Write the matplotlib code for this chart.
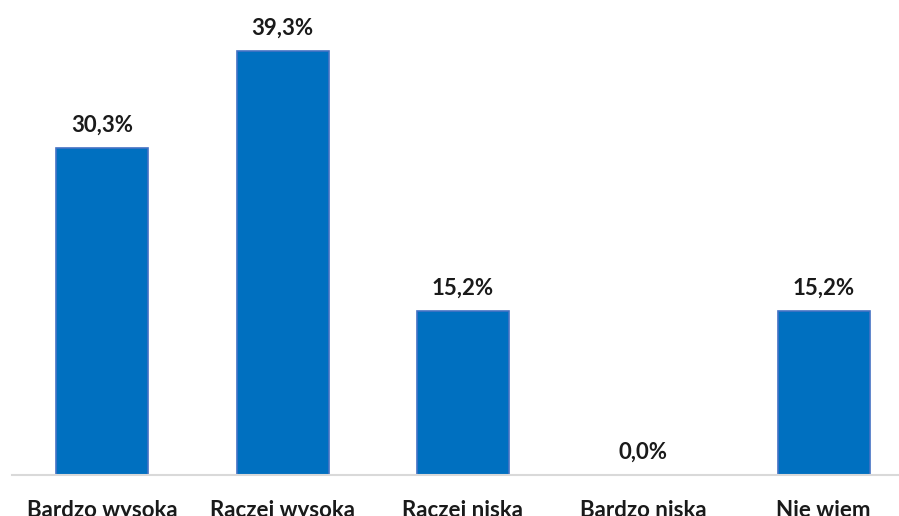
import matplotlib.pyplot as plt

categories = ["Bardzo wysoka", "Raczej wysoka", "Raczej niska", "Bardzo niska", "Nie wiem"]
values = [30.3, 39.3, 15.2, 0.0, 15.2]
labels = ["30,3%", "39,3%", "15,2%", "0,0%", "15,2%"]

plt.rcParams['font.family'] = ['Lato', 'DejaVu Sans']

fig = plt.figure(figsize=(8.99, 5.16), dpi=100)
ax = fig.add_axes([12 / 899, 41 / 516, 887 / 899, 475 / 516])

x = range(len(categories))
ax.bar(x, values, width=0.51, color="#0070C0", edgecolor="#4472C4", linewidth=1.2)

for xi, v, lab in zip(x, values, labels):
    ax.annotate(lab, (xi, v), xytext=(0, 9), textcoords="offset points",
                ha="center", va="bottom", fontsize=16, fontweight="bold", color="#1a1a1a")

ax.set_xlim(-0.5, 4.418)
ax.set_ylim(0, 44.0)
ax.set_xticks(list(x))
ax.set_xticklabels(categories, fontsize=16, fontweight="bold", color="#1a1a1a")
ax.tick_params(axis="x", length=0, pad=18)
ax.set_yticks([])
for s in ["top", "left", "right"]:
    ax.spines[s].set_visible(False)
ax.spines["bottom"].set_color("#d9d9d9")
ax.spines["bottom"].set_linewidth(1.5)

fig.savefig("out.png", dpi=100)
